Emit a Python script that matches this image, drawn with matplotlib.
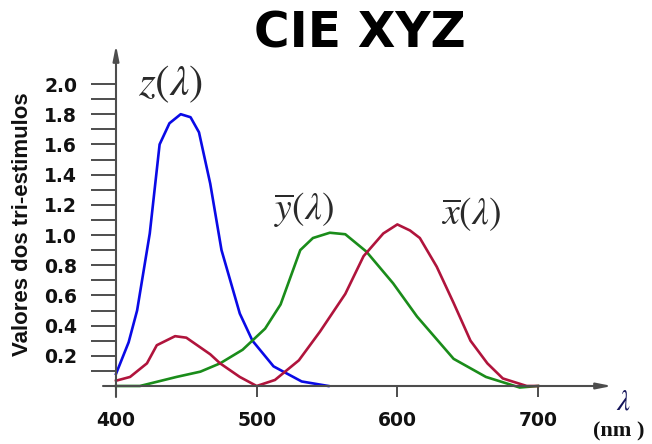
import matplotlib
matplotlib.use("Agg")
import matplotlib.pyplot as plt

# ---- data ----
lam_z = [400, 409, 415, 424, 431, 438, 446, 453, 459, 467, 475, 488, 497, 512, 532, 551]
z_bar = [0.08, 0.29, 0.50, 1.01, 1.60, 1.74, 1.80, 1.78, 1.68, 1.34, 0.90, 0.48, 0.30, 0.13, 0.03, 0.00]

lam_x = [400, 410, 422, 429, 442, 450, 467, 474, 488, 500, 513, 530, 545, 563, 576,
         590, 600, 609, 616, 628, 640, 652, 664, 675, 692, 700]
x_bar = [0.035, 0.06, 0.15, 0.27, 0.33, 0.32, 0.21, 0.15, 0.06, 0.0, 0.04, 0.17, 0.36, 0.61, 0.86,
         1.01, 1.07, 1.03, 0.98, 0.79, 0.55, 0.30, 0.15, 0.05, 0.0, 0.0]

lam_y = [400, 417, 443, 460, 474, 490, 506, 517, 531, 540, 552, 563, 578, 597, 614, 640, 663, 687, 700]
y_bar = [0.0, 0.0, 0.06, 0.095, 0.15, 0.24, 0.38, 0.54, 0.90, 0.98, 1.015, 1.005, 0.89, 0.68, 0.46,
         0.18, 0.06, -0.01, 0.0]

x_ticks = [400, 500, 600, 700]
y_ticks = [round(0.1 * k, 1) for k in range(1, 21)]
y_ticklabels = [f"{v:.1f}" if k % 2 == 0 else "" for k, v in zip(range(1, 21), y_ticks)]

title = "CIE XYZ"
ylabel = "Valores dos tri-estimulos"

# ---- figure ----
W, H = 652, 444
fig = plt.figure(figsize=(W / 100, H / 100), dpi=100)
plt.rcParams['mathtext.fontset'] = 'stix'

left_px, right_px, zero_px, top_px = 116, 612, 386, 45
ax = fig.add_axes([left_px / W, (H - zero_px) / H, (right_px - left_px) / W, (zero_px - top_px) / H])
px_per_nm = (538 - 116) / 300.0
px_per_unit = 151.0
ax.set_xlim(400, 400 + (right_px - left_px) / px_per_nm)
ax.set_ylim(0, (zero_px - top_px) / px_per_unit)

ax.plot(lam_z, z_bar, color='#0a0ae6', lw=1.9, solid_joinstyle='round', clip_on=False)
ax.plot(lam_y, y_bar, color='#1a8c1a', lw=1.9, solid_joinstyle='round', clip_on=False)
ax.plot(lam_x, x_bar, color='#b0143c', lw=1.9, solid_joinstyle='round', clip_on=False)

for s in ax.spines.values():
    s.set_visible(False)

axis_col = '#4d4d4d'
# axes with arrows
ax.annotate('', xy=(1.0, 0), xytext=(-13 / (right_px - left_px), 0),
            xycoords='axes fraction', textcoords='axes fraction',
            arrowprops=dict(arrowstyle='-|>,head_length=0.9,head_width=0.18', color=axis_col, lw=1.5,
                            shrinkA=0, shrinkB=0))
ax.annotate('', xy=(0, 1.0), xytext=(0, -11 / (zero_px - top_px)),
            xycoords='axes fraction', textcoords='axes fraction',
            arrowprops=dict(arrowstyle='-|>,head_length=0.9,head_width=0.18', color=axis_col, lw=1.5,
                            shrinkA=0, shrinkB=0))

ax.set_xticks(x_ticks)
ax.set_xticklabels([str(v) for v in x_ticks])
ax.set_yticks(y_ticks)
ax.set_yticklabels(y_ticklabels)
ax.tick_params(axis='y', direction='out', length=18, width=1.4, color=axis_col, pad=10)
ax.tick_params(axis='x', direction='out', length=8, width=1.4, color=axis_col, pad=10)
for lab in ax.get_xticklabels() + ax.get_yticklabels():
    lab.set_fontfamily('DejaVu Sans')
    lab.set_fontweight('bold')
    lab.set_fontsize(13.5)
    lab.set_color('#111111')

# y label
fig.text(23 / W, 1 - 224 / H, ylabel, rotation=90, ha='center', va='center',
         fontsize=16, fontweight='bold', family='Liberation Sans', color='#111111')

# title
fig.text(360 / W, 1 - 33 / H, title, ha='center', va='center',
         fontsize=35, fontweight='bold', family='DejaVu Sans', color='black')

# curve labels
lab_col = '#2a2a2a'
fig.text(171 / W, 1 - 84 / H, r'$z(\lambda)$', ha='center', va='center', fontsize=31, color=lab_col)
fig.text(304 / W, 1 - 210 / H, r'$\overline{y}(\lambda)$', ha='center', va='center', fontsize=27, color=lab_col)
fig.text(471 / W, 1 - 214 / H, r'$\overline{x}(\lambda)$', ha='center', va='center', fontsize=27, color=lab_col)

# axis unit
fig.text(623 / W, 1 - 401 / H, r'$\lambda$', ha='center', va='center', fontsize=21, color='#14145a')
fig.text(619 / W, 1 - 431 / H, '(nm )', ha='center', va='center', fontsize=16, fontweight='bold',
         family='Liberation Serif', color='#111111')

fig.savefig('out.png', dpi=100)
